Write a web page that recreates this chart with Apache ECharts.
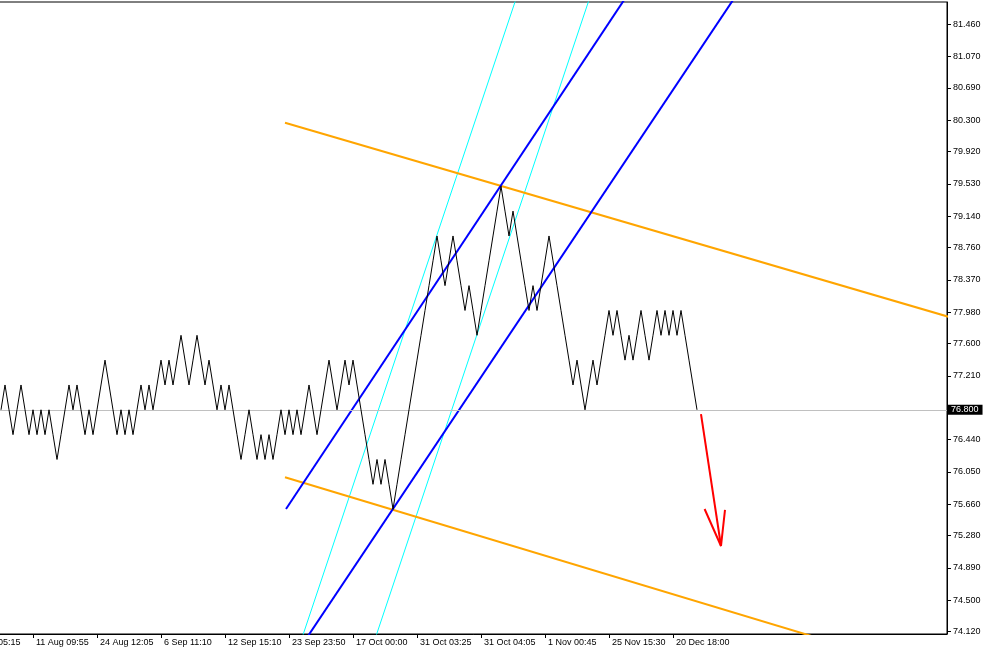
<!DOCTYPE html>
<html>
<head>
<meta charset="utf-8">
<script src="https://cdn.jsdelivr.net/npm/echarts@6/dist/echarts.min.js"></script>
<style>
html,body{margin:0;padding:0;background:#fff;}
#chart{width:984px;height:651px;}
</style>
</head>
<body>
<div id="chart"></div>
<script>
// Close price of each renko bar (box 0.3), bar index = position in array
const closes = [
  76.8,77.1,76.8,76.5,76.8,77.1,76.8,76.5,76.8,76.5,
  76.8,76.5,76.8,76.5,76.2,76.5,76.8,77.1,76.8,77.1,
  76.8,76.5,76.8,76.5,76.8,77.1,77.4,77.1,76.8,76.5,
  76.8,76.5,76.8,76.5,76.8,77.1,76.8,77.1,76.8,77.1,
  77.4,77.1,77.4,77.1,77.4,77.7,77.4,77.1,77.4,77.7,
  77.4,77.1,77.4,77.1,76.8,77.1,76.8,77.1,76.8,76.5,
  76.2,76.5,76.8,76.5,76.2,76.5,76.2,76.5,76.2,76.5,
  76.8,76.5,76.8,76.5,76.8,76.5,76.8,77.1,76.8,76.5,
  76.8,77.1,77.4,77.1,76.8,77.1,77.4,77.1,77.4,77.1,
  76.8,76.5,76.2,75.9,76.2,75.9,76.2,75.9,75.6,75.9,
  76.2,76.5,76.8,77.1,77.4,77.7,78.0,78.3,78.6,78.9,
  78.6,78.3,78.6,78.9,78.6,78.3,78.0,78.3,78.0,77.7,
  78.0,78.3,78.6,78.9,79.2,79.5,79.2,78.9,79.2,78.9,
  78.6,78.3,78.0,78.3,78.0,78.3,78.6,78.9,78.6,78.3,
  78.0,77.7,77.4,77.1,77.4,77.1,76.8,77.1,77.4,77.1,
  77.4,77.7,78.0,77.7,78.0,77.7,77.4,77.7,77.4,77.7,
  78.0,77.7,77.4,77.7,78.0,77.7,78.0,77.7,78.0,77.7,
  78.0,77.7,77.4,77.1,76.8
];
const currentPrice = 76.8;

// X axis tick labels (bar index -> time label)
const xTickBars = [-8, 8, 24, 40, 56, 72, 88, 104, 120, 136, 152, 168];
const xTickLabels = ["1 Aug 05:15", "11 Aug 09:55", "24 Aug 12:05", "6 Sep 11:10", "12 Sep 15:10",
  "23 Sep 23:50", "17 Oct 00:00", "31 Oct 03:25", "31 Oct 04:05", "1 Nov 00:45",
  "25 Nov 15:30", "20 Dec 18:00"];

// Y axis price tick labels
const yTicks = [74.12, 74.50, 74.89, 75.28, 75.66, 76.05, 76.44, 77.21, 77.60, 77.98,
  78.37, 78.76, 79.14, 79.53, 79.92, 80.30, 80.69, 81.07, 81.46];

// Drawn objects: [barIndex, price] endpoints
const blueUpper = [[71.25, 75.602], [157.43, 81.871]];
const blueLower = [[71.25, 73.670], [184.68, 81.871]];
const cyanLeft = [[73.4, 73.778], [129.5, 81.871]];
const cyanRight = [[91.75, 73.778], [147.83, 81.871]];
const orangeUpper = [[71, 80.268], [239.75, 77.883]];
const orangeLower = [[71, 75.985], [209.75, 73.964]];
const redArrowShaft = [[175, 76.749], [180, 75.155]];
const redArrowHead = [[175.9, 75.602], [180, 75.155], [181, 75.590]];

const FONT = 'Liberation Sans';

function lineSeries(name, data, color, width, z) {
  return {
    name: name, type: 'line', data: data, clip: true, silent: true,
    symbol: 'none', z: z,
    lineStyle: {color: color, width: width},
    animation: false
  };
}

const chart = echarts.init(document.getElementById('chart'), null, {renderer: 'canvas'});
const option = {
  animation: false,
  backgroundColor: '#ffffff',
  grid: {left: -39, right: 37, top: 2, bottom: 17, show: true, borderColor: '#000', borderWidth: 1,
    containLabel: false, outerBoundsMode: 'none'},
  xAxis: {
    type: 'value', min: -10, max: 236.5,
    axisLine: {show: true, onZero: false, lineStyle: {color: '#000', width: 1}},
    axisTick: {show: true, length: 4, customValues: xTickBars, lineStyle: {color: '#000'}},
    axisLabel: {
      customValues: xTickBars,
      formatter: function (v) { const i = xTickBars.indexOf(v); return i >= 0 ? xTickLabels[i] : ''; },
      align: 'left', padding: [0, 0, 0, 3], margin: 4,
      fontSize: 9, fontFamily: FONT, color: '#000'
    },
    splitLine: {show: false}
  },
  yAxis: {
    type: 'value', position: 'right', min: 74.092, max: 81.726, scale: true,
    axisLine: {show: true, onZero: false, lineStyle: {color: '#000', width: 1}},
    axisTick: {show: true, length: 4, customValues: yTicks, lineStyle: {color: '#000'}},
    axisLabel: {
      customValues: yTicks,
      formatter: function (v) { return v.toFixed(3); },
      align: 'left', margin: 6,
      fontSize: 9, fontFamily: FONT, color: '#000'
    },
    splitLine: {show: false}
  },
  series: [
    lineSeries('cyan1', cyanLeft, '#00ffff', 1, 2),
    lineSeries('cyan2', cyanRight, '#00ffff', 1, 2),
    lineSeries('orange1', orangeUpper, '#ffa500', 2, 3),
    lineSeries('orange2', orangeLower, '#ffa500', 2, 3),
    lineSeries('blue1', blueUpper, '#0000ff', 2, 4),
    lineSeries('blue2', blueLower, '#0000ff', 2, 4),
    {
      name: 'price', type: 'line', symbol: 'none', z: 5, clip: true,
      data: closes.map(function (c, i) { return [i, c]; }),
      lineStyle: {color: '#000', width: 1},
      markLine: {
        silent: true, symbol: ['none', 'none'], animation: false,
        lineStyle: {color: '#c0c0c0', type: 'solid', width: 1},
        label: {
          show: true, position: 'end', distance: 0,
          formatter: function () { return currentPrice.toFixed(3); },
          color: '#fff', backgroundColor: '#000', padding: [1, 4, 0, 4],
          fontSize: 9, fontFamily: FONT
        },
        data: [{yAxis: currentPrice}]
      }
    },
    lineSeries('arrowShaft', redArrowShaft, '#ff0000', 2, 6),
    lineSeries('arrowHead', redArrowHead, '#ff0000', 2, 6)
  ]
};
chart.setOption(option);
</script>
</body>
</html>
